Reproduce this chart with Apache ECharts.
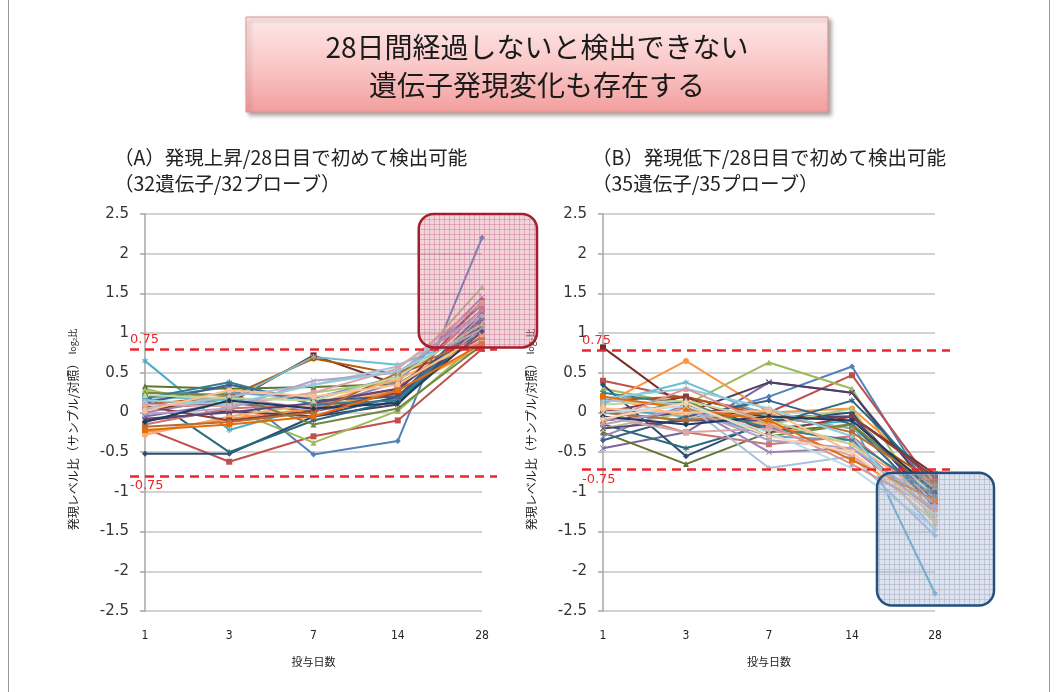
<!DOCTYPE html>
<html>
<head>
<meta charset="utf-8">
<script src="https://cdn.jsdelivr.net/npm/echarts@6/dist/echarts.min.js"></script>
<style>
html,body{margin:0;padding:0;background:#fff;}
#main{width:1057px;height:692px;}
</style>
</head>
<body>
<div id="main"></div>
<script>
// ---- data ----
const days = ['1', '3', '7', '14', '28'];
const yTicks = [-2.5, 2.5, 0.5]; // min, max, interval
const titleLines = ['28日間経過しないと検出できない', '遺伝子発現変化も存在する'];
const subtitleA = ['（A）発現上昇/28日目で初めて検出可能', '（32遺伝子/32プローブ）'];
const subtitleB = ['（B）発現低下/28日目で初めて検出可能', '（35遺伝子/35プローブ）'];
const yName = '発現レベル比（サンプル/対照）';
const yNameUnit = 'log₂比';
const xName = '投与日数';
const thresholdA = [0.80, -0.80];
const thresholdB = [0.79, -0.72];
const thresholdLabels = ['0.75', '-0.75'];

// (A) up-regulated: 32 probes, values at day 1,3,7,14,28
const seriesA = [
  [0.18, 0.32, -0.53, -0.36, 2.20],
  [-0.20, -0.62, -0.30, -0.10, 0.80],
  [0.30, 0.05, -0.38, 0.02, 0.92],
  [-0.05, 0.12, 0.02, 0.18, 1.20],
  [0.65, -0.22, 0.08, 0.22, 1.02],
  [-0.25, -0.08, 0.05, 0.28, 0.82],
  [-0.52, -0.52, -0.05, 0.20, 1.10],
  [0.05, 0.12, 0.72, 0.35, 0.95],
  [0.33, 0.30, 0.32, 0.36, 0.98],
  [-0.10, 0.02, -0.05, 0.10, 1.15],
  [0.22, -0.50, -0.10, 0.15, 1.05],
  [0.10, 0.20, 0.68, 0.48, 0.88],
  [0.15, 0.25, 0.18, 0.45, 1.35],
  [-0.15, 0.05, 0.10, 0.30, 1.30],
  [0.28, 0.10, 0.25, 0.40, 1.58],
  [0.00, 0.18, 0.05, 0.38, 1.45],
  [0.20, 0.15, 0.70, 0.60, 1.00],
  [-0.28, -0.05, 0.10, 0.42, 0.90],
  [0.12, 0.35, 0.15, 0.20, 1.25],
  [0.08, -0.10, 0.02, 0.25, 1.40],
  [0.25, 0.22, -0.15, 0.05, 0.85],
  [-0.08, 0.00, 0.12, 0.30, 1.08],
  [0.18, 0.38, 0.10, 0.15, 1.18],
  [-0.18, -0.12, 0.00, 0.50, 0.95],
  [0.05, 0.20, 0.35, 0.58, 1.22],
  [0.10, 0.08, 0.25, 0.55, 1.38],
  [0.22, 0.18, 0.15, 0.45, 1.12],
  [-0.02, 0.05, 0.40, 0.50, 1.28],
  [0.15, 0.10, 0.35, 0.52, 1.05],
  [0.02, 0.28, 0.20, 0.35, 0.98],
  [-0.12, 0.15, 0.05, 0.12, 1.02],
  [-0.22, -0.15, -0.05, 0.28, 0.86]
];

// (B) down-regulated: 35 probes
const seriesB = [
  [0.00, -0.10, 0.20, 0.58, -1.10],
  [0.40, 0.18, 0.00, 0.47, -0.95],
  [0.30, 0.10, 0.63, 0.30, -1.35],
  [-0.45, -0.25, 0.38, 0.25, -1.00],
  [0.05, -0.05, -0.20, -0.10, -2.28],
  [0.10, 0.65, 0.00, 0.05, -0.85],
  [0.35, -0.55, -0.10, 0.00, -1.20],
  [0.82, 0.05, -0.05, -0.05, -0.78],
  [-0.25, -0.65, -0.25, -0.15, -1.00],
  [-0.10, 0.00, 0.38, 0.25, -1.05],
  [-0.15, -0.45, -0.15, 0.15, -0.90],
  [0.15, 0.20, -0.05, -0.20, -0.88],
  [0.20, 0.05, -0.30, -0.35, -1.30],
  [0.05, -0.25, -0.40, -0.30, -1.15],
  [-0.20, 0.00, -0.15, 0.05, -1.40],
  [-0.30, 0.10, -0.50, -0.45, -1.25],
  [0.12, 0.38, -0.05, -0.20, -0.95],
  [0.20, -0.05, -0.15, -0.40, -1.08],
  [-0.35, -0.05, 0.15, -0.15, -1.18],
  [0.00, 0.20, -0.25, -0.05, -0.82],
  [-0.10, 0.15, -0.30, -0.15, -1.02],
  [-0.20, -0.10, -0.10, -0.05, -1.12],
  [0.25, 0.10, -0.20, -0.35, -1.05],
  [0.00, -0.10, 0.00, -0.25, -0.92],
  [0.15, 0.10, -0.70, -0.55, -1.55],
  [-0.05, -0.25, -0.20, -0.55, -1.20],
  [0.10, 0.15, -0.10, -0.40, -1.32],
  [-0.15, 0.05, -0.35, -0.45, -1.15],
  [0.18, 0.30, 0.05, -0.30, -1.48],
  [0.05, 0.00, 0.02, -0.50, -1.38],
  [-0.05, -0.15, -0.05, -0.10, -1.00],
  [0.20, 0.05, -0.10, -0.60, -1.10],
  [-0.12, 0.30, -0.15, -0.65, -1.22],
  [0.00, 0.08, -0.25, -0.70, -1.45],
  [-0.08, 0.12, -0.30, -0.50, -1.28]
];

// ---- styles ----
const palette = ['#4F81BD','#C0504D','#9BBB59','#8064A2','#4BACC6','#F79646',
  '#2C4D75','#772C2A','#5F7530','#4D3B62','#276A7C','#B65708',
  '#729ACA','#CD7371','#AFC97A','#9983B5','#6FBDD1','#F9AB6B',
  '#3A5F8B','#8E3A38','#71893F','#5C4776','#357D91','#B66D31',
  '#A7C0DE','#DDA5A4','#C3D69B','#B3A2C7','#93CDDD','#FAC090',
  '#1F3A5C','#E46C0A','#D99694','#B7DEE8','#FCD5B5'];
const xPath = 'path://M0,1L1,0L5,4L9,0L10,1L6,5L10,9L9,10L5,6L1,10L0,9L4,5Z';
const starPath = 'path://M4,0L6,0L6,3.5L9,1.5L10,3L7,5L10,7L9,8.5L6,6.5L6,10L4,10L4,6.5L1,8.5L0,7L3,5L0,3L1,1.5L4,3.5Z';
const markers = ['diamond','rect','triangle',xPath,starPath,'circle'];
const jp = '"Noto Sans CJK JP", sans-serif';

function buildSeries(values, idx) {
  return values.map((v, i) => ({
    type: 'line', xAxisIndex: idx, yAxisIndex: idx, data: v,
    symbol: markers[i % markers.length], symbolSize: 6,
    lineStyle: { width: 2, color: palette[i % palette.length] },
    itemStyle: { color: palette[i % palette.length] },
    silent: true, animation: false, z: 3
  }));
}

function thresholdSeries(idx, vals) {
  return {
    type: 'line', xAxisIndex: idx, yAxisIndex: idx, data: [],
    silent: true, animation: false, z: 5,
    markLine: {
      symbol: 'none', silent: true, animation: false,
      lineStyle: { color: '#E8282C', type: [9, 6], width: 2.5 },
      data: vals.map((v, k) => ({
        yAxis: v,
        label: {
          show: true, formatter: thresholdLabels[k],
          position: k === 0 ? 'insideStartTop' : 'insideStartBottom',
          distance: [0, 3], color: '#E8282C', fontSize: 13,
          fontFamily: 'DejaVu Sans'
        }
      }))
    }
  };
}

const grids = [
  { left: 145, right: 575, top: 214, bottom: 81 },
  { left: 603, right: 122, top: 214, bottom: 81 },
  { left: 130, right: 560, top: 214, bottom: 81 },
  { left: 582, right: 107, top: 214, bottom: 81 }
];

function mainX(gi) {
  return {
    type: 'category', gridIndex: gi, data: days, boundaryGap: false,
    axisLine: { show: false }, axisTick: { show: false },
    splitLine: { show: false },
    axisLabel: { margin: 19, fontSize: 12, color: '#222', fontFamily: '"Liberation Sans Narrow", "DejaVu Sans Condensed", sans-serif' },
    name: xName, nameLocation: 'middle', nameGap: 45,
    nameTextStyle: { fontSize: 11, color: '#222', fontFamily: jp }
  };
}
function mainY(gi) {
  return {
    type: 'value', gridIndex: gi, min: yTicks[0], max: yTicks[1], interval: yTicks[2],
    axisLine: { show: true, lineStyle: { color: '#A6A6A6', width: 1.5 } },
    axisTick: { show: true, length: 5, lineStyle: { color: '#A6A6A6', width: 1.5 } },
    splitLine: { show: true, lineStyle: { color: '#C4C4C4', width: 1.5 } },
    axisLabel: { margin: 16, fontSize: 15, color: '#333', fontFamily: 'DejaVu Sans' },
    name: '{a|' + yName + '} {b|' + yNameUnit + '}',
    nameLocation: 'middle', nameRotate: 90, nameGap: 66,
    nameTextStyle: {
      padding: [0, 34, 0, 0],
      rich: {
        a: { fontSize: 12, color: '#222', fontFamily: jp },
        b: { fontSize: 9, color: '#222', fontFamily: jp }
      }
    }
  };
}
function hiddenX(gi) { return { type: 'value', gridIndex: gi, min: 0, max: 1, show: false }; }
function hiddenY(gi) { return { type: 'value', gridIndex: gi, min: yTicks[0], max: yTicks[1], show: false }; }

const chart = echarts.init(document.getElementById('main'), null, { renderer: 'canvas' });

function makePattern(base, line) {
  const c = document.createElement('canvas');
  c.width = 5; c.height = 5;
  const g = c.getContext('2d');
  g.fillStyle = base; g.fillRect(0, 0, 5, 5);
  g.fillStyle = line; g.fillRect(4, 0, 1, 5); g.fillRect(0, 4, 5, 1);
  return c;
}

const option = {
  backgroundColor: '#fff',
  animation: false,
  grid: grids,
  xAxis: [mainX(0), mainX(1), hiddenX(2), hiddenX(3)],
  yAxis: [mainY(0), mainY(1), hiddenY(2), hiddenY(3)],
  series: [].concat(buildSeries(seriesA, 0), buildSeries(seriesB, 1),
    [thresholdSeries(2, thresholdA), thresholdSeries(3, thresholdB)])
};
chart.setOption(option);

// annotation boxes from axis coordinates
const pA1 = chart.convertToPixel({ gridIndex: 0 }, ['14', 2.5]);
const pA2 = chart.convertToPixel({ gridIndex: 0 }, ['28', 0.82]);
const pB1 = chart.convertToPixel({ gridIndex: 1 }, ['14', -0.76]);
const pB2 = chart.convertToPixel({ gridIndex: 1 }, ['28', -2.43]);
const boxA = { x: pA1[0] + 21, y: pA1[1], w: (pA2[0] - pA1[0]) + 55 - 21, h: pA2[1] - pA1[1] };
const boxB = { x: pB1[0] + 25, y: pB1[1], w: (pB2[0] - pB1[0]) + 59 - 25, h: pB2[1] - pB1[1] };

const subFont = '19.5px ' + jp;
chart.setOption({
  graphic: [
    { type: 'rect', z: 0, silent: true, shape: { x: 8.5, y: -2, width: 1041, height: 696 },
      style: { fill: 'none', stroke: '#9a9a9a', lineWidth: 1 } },
    { type: 'rect', z: 50, silent: true, shape: { x: 246, y: 17, width: 582, height: 95 },
      style: {
        fill: new echarts.graphic.LinearGradient(0, 0, 0, 1, [
          { offset: 0, color: '#FDE8E8' }, { offset: 0.5, color: '#FAC8C8' }, { offset: 1, color: '#F39E9E' }]),
        stroke: '#E08F8F', lineWidth: 1,
        shadowBlur: 4, shadowColor: 'rgba(0,0,0,0.35)', shadowOffsetX: 3, shadowOffsetY: 3
      } },
    { type: 'text', z: 51, silent: true, x: 537, y: 47,
      style: { text: titleLines[0], font: '28px ' + jp, fill: '#1a1a1a', align: 'center', verticalAlign: 'middle' } },
    { type: 'text', z: 51, silent: true, x: 537, y: 85,
      style: { text: titleLines[1], font: '28px ' + jp, fill: '#1a1a1a', align: 'center', verticalAlign: 'middle' } },
    { type: 'text', z: 51, silent: true, x: 114, y: 158,
      style: { text: subtitleA[0], font: subFont, fill: '#222', verticalAlign: 'middle' } },
    { type: 'text', z: 51, silent: true, x: 114, y: 184,
      style: { text: subtitleA[1], font: subFont, fill: '#222', verticalAlign: 'middle' } },
    { type: 'text', z: 51, silent: true, x: 592, y: 158,
      style: { text: subtitleB[0], font: subFont, fill: '#222', verticalAlign: 'middle' } },
    { type: 'text', z: 51, silent: true, x: 592, y: 184,
      style: { text: subtitleB[1], font: subFont, fill: '#222', verticalAlign: 'middle' } },
    { type: 'rect', z: 100, silent: true,
      shape: { x: boxA.x, y: boxA.y, width: boxA.w, height: boxA.h, r: 15 },
      style: { fill: { image: makePattern('rgba(214,120,145,0.33)', 'rgba(200,105,135,0.4)'), repeat: 'repeat' },
        stroke: '#A51E2A', lineWidth: 2.5 } },
    { type: 'rect', z: 100, silent: true,
      shape: { x: boxB.x, y: boxB.y, width: boxB.w, height: boxB.h, r: 15 },
      style: { fill: { image: makePattern('rgba(165,180,205,0.38)', 'rgba(150,168,198,0.46)'), repeat: 'repeat' },
        stroke: '#24507F', lineWidth: 2.5 } }
  ]
});
</script>
</body>
</html>
